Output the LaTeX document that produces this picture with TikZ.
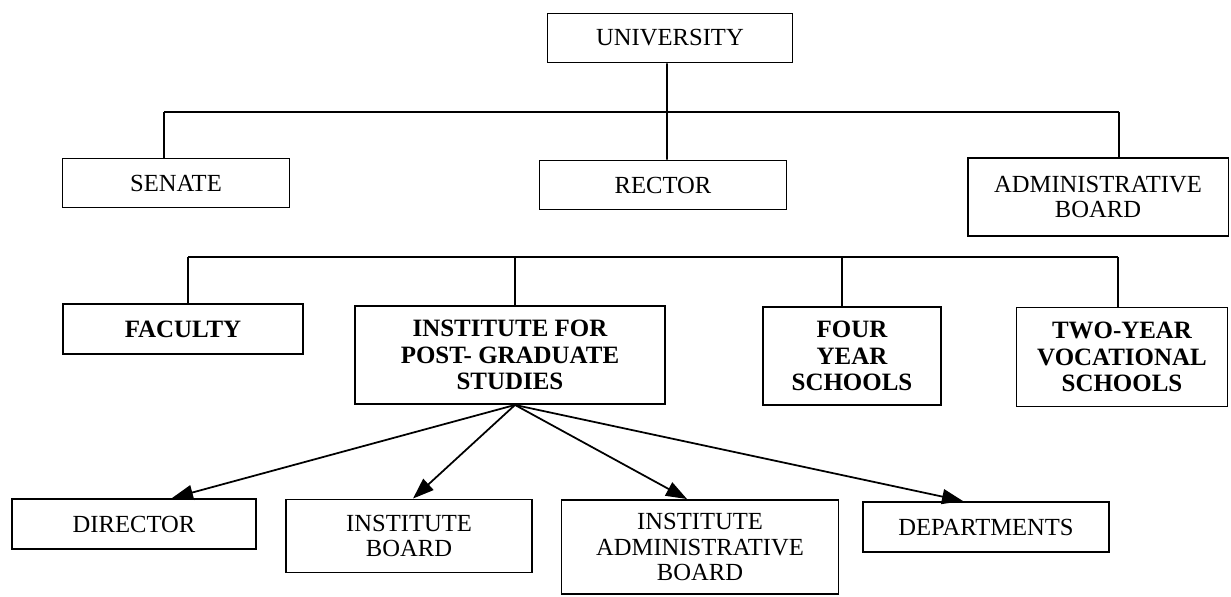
\documentclass[tikz,border=0pt]{standalone}
\usepackage{fontspec}
\setmainfont{Liberation Serif}
\usetikzlibrary{arrows.meta}

\begin{document}
\begin{tikzpicture}[x=0.02cm, y=-0.02cm,
    box/.style={draw, line width=1.1pt, align=center, inner sep=2pt,
        font=\fontsize{14}{14.4}\selectfont},
    boldbox/.style={box, font=\fontsize{14.2}{15.2}\selectfont\bfseries},
    link/.style={line width=1pt},
    tip/.style={link, -{Triangle[length=4.2mm, width=3mm]}}]
    \useasboundingbox (0,0) rectangle (1231,597);

    % Top level
    \node[box, minimum width=4.9cm, minimum height=0.98cm] (univ) at (670,38) {UNIVERSITY};

    % Governing bodies
    \node[box, minimum width=4.54cm, minimum height=0.98cm] (senate) at (176,183) {SENATE};
    \node[box, minimum width=4.94cm, minimum height=0.98cm] (rector) at (663,185) {RECTOR};
    \node[box, minimum width=5.22cm, minimum height=1.56cm] (adminb) at (1098,197) {ADMINISTRATIVE\\BOARD};

    % Units
    \node[boldbox, minimum width=4.8cm, minimum height=1cm] (faculty) at (183,329) {FACULTY};
    \node[boldbox, minimum width=6.2cm, minimum height=1.96cm] (inst) at (510,355) {INSTITUTE FOR\\POST- GRADUATE\\STUDIES};
    \node[boldbox, minimum width=3.56cm, minimum height=1.96cm] (four) at (852,356) {FOUR\\YEAR\\SCHOOLS};
    \node[boldbox, minimum width=4.22cm, minimum height=1.98cm] (two) at (1122,357) {TWO-YEAR\\VOCATIONAL\\SCHOOLS};

    % Institute bodies
    \node[box, minimum width=4.88cm, minimum height=1cm] (director) at (134,524) {DIRECTOR};
    \node[box, minimum width=4.92cm, minimum height=1.46cm] (iboard) at (409,536) {INSTITUTE\\BOARD};
    \node[box, minimum width=5.54cm, minimum height=1.88cm] (iadmin) at (700,547) {INSTITUTE\\ADMINISTRATIVE\\BOARD};
    \node[box, minimum width=4.92cm, minimum height=1cm] (depts) at (986,527) {DEPARTMENTS};

    % First bus
    \coordinate (b1l) at (164,112);
    \coordinate (b1r) at (1119,112);
    \draw[link] (b1l) -- (b1r);
    \draw[link] (b1l) -- (b1l |- senate.north);
    \draw[link] (b1r) -- (b1r |- adminb.north);
    \draw[link] ([xshift=-0.06cm]univ.south) -- ([xshift=0.08cm]rector.north);

    % Second bus
    \coordinate (b2l) at (188,257);
    \coordinate (b2r) at (1118,257);
    \draw[link] (b2l) -- (b2r);
    \foreach \n/\s in {faculty/0.1, inst/0.1, four/-0.2, two/-0.08} {
        \path ([xshift=\s cm]\n.north) coordinate (top);
        \draw[link] (top) -- (top |- b2l);
    }

    % Arrows from the institute
    \coordinate (src) at ([xshift=0.1cm]inst.south);
    \draw[tip] (src) -- ([xshift=0.76cm]director.north);
    \draw[tip] (src) -- ([xshift=0.08cm]iboard.north);
    \draw[tip] (src) -- ([xshift=-0.26cm]iadmin.north);
    \draw[tip] (src) -- ([xshift=-0.46cm]depts.north);
\end{tikzpicture}
\end{document}
